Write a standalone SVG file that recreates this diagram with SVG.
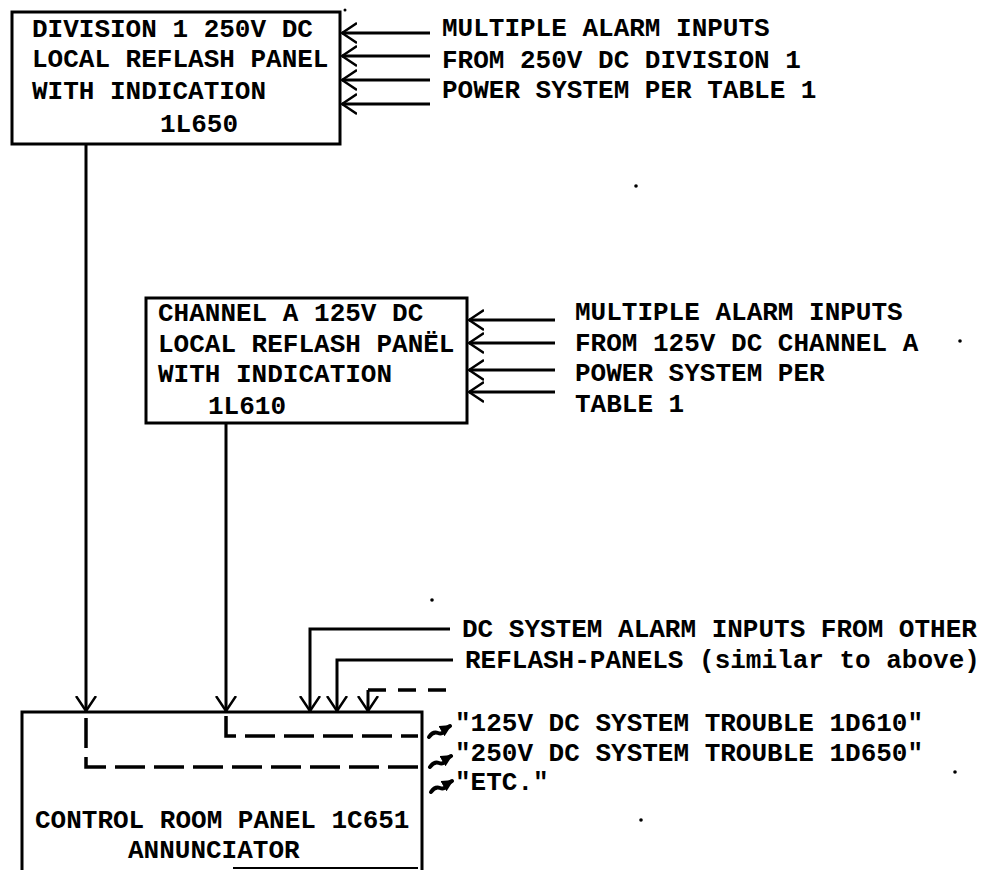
<svg xmlns="http://www.w3.org/2000/svg" width="995" height="870" viewBox="0 0 995 870">
<style>
  .box{fill:none;stroke:#000;stroke-width:3}
  .ln{fill:none;stroke:#000;stroke-width:3}
  .dash{fill:none;stroke:#000;stroke-width:3.5;stroke-dasharray:30 9}
  .dash2{fill:none;stroke:#000;stroke-width:3.5;stroke-dasharray:18 12}
  .sq{fill:none;stroke:#000;stroke-width:4;stroke-linecap:round;stroke-linejoin:round}
  text{font-family:"Liberation Mono","Courier New",monospace;font-size:26px;font-weight:bold;fill:#000}
</style>
<defs>
  <marker id="v" viewBox="0 0 16 22" refX="15" refY="11" markerWidth="16" markerHeight="22" markerUnits="userSpaceOnUse" orient="auto">
    <path d="M0,1 L15,11 L0,21" fill="none" stroke="#000" stroke-width="2.5"/>
  </marker>
  <marker id="bolt" viewBox="0 0 12 12" refX="10" refY="6" markerWidth="12" markerHeight="12" markerUnits="userSpaceOnUse" orient="auto">
    <path d="M0,0 L12,6 L0,12 Z" fill="#000"/>
  </marker>
</defs>
<rect width="995" height="870" fill="#fff"/>

<g id="panel-1L650">
  <rect class="box" x="12" y="12" width="328" height="132"/>
  <text x="32" y="37">DIVISION 1 250V DC</text>
  <text x="32" y="67">LOCAL REFLASH PANEL</text>
  <text x="32" y="99">WITH INDICATION</text>
  <text x="160" y="132">1L650</text>
</g>

<g id="inputs-1L650">
  <text x="442" y="36">MULTIPLE ALARM INPUTS</text>
  <text x="442" y="68">FROM 250V DC DIVISION 1</text>
  <text x="442" y="98">POWER SYSTEM PER TABLE 1</text>
</g>

<g id="panel-1L610">
  <rect class="box" x="146" y="298" width="321" height="125"/>
  <text x="158" y="321">CHANNEL A 125V DC</text>
  <text x="158" y="352">LOCAL REFLASH PANËL</text>
  <text x="158" y="382">WITH INDICATION</text>
  <text x="208" y="414">1L610</text>
</g>

<g id="inputs-1L610">
  <text x="575" y="320">MULTIPLE ALARM INPUTS</text>
  <text x="575" y="351">FROM 125V DC CHANNEL A</text>
  <text x="575" y="381">POWER SYSTEM PER</text>
  <text x="575" y="412">TABLE 1</text>
</g>

<g id="panel-1C651">
  <path class="box" d="M22,870 V712 H422 V870"/>
  <text x="35" y="828">CONTROL ROOM PANEL 1C651</text>
  <text x="128" y="858">ANNUNCIATOR</text>
  <line x1="233" y1="868" x2="418" y2="868" stroke="#000" stroke-width="2"/>
</g>

<g id="other-inputs">
  <text x="462" y="637">DC SYSTEM ALARM INPUTS FROM OTHER</text>
  <text x="465" y="668">REFLASH-PANELS (similar to above)</text>
</g>

<g id="outputs">
  <text x="455" y="731">"125V DC SYSTEM TROUBLE 1D610"</text>
  <text x="455" y="761">"250V DC SYSTEM TROUBLE 1D650"</text>
  <text x="455" y="790">"ETC."</text>
</g>

<g id="connectors">
  <line class="ln" x1="430" y1="33" x2="342" y2="33" marker-end="url(#v)"/>
  <line class="ln" x1="430" y1="56" x2="342" y2="56" marker-end="url(#v)"/>
  <line class="ln" x1="430" y1="80" x2="342" y2="80" marker-end="url(#v)"/>
  <line class="ln" x1="430" y1="104" x2="342" y2="104" marker-end="url(#v)"/>

  <line class="ln" x1="555" y1="320" x2="469" y2="320" marker-end="url(#v)"/>
  <line class="ln" x1="555" y1="343" x2="469" y2="343" marker-end="url(#v)"/>
  <line class="ln" x1="555" y1="370" x2="469" y2="370" marker-end="url(#v)"/>
  <line class="ln" x1="555" y1="392" x2="469" y2="392" marker-end="url(#v)"/>

  <line class="ln" x1="86" y1="144" x2="86" y2="711" marker-end="url(#v)"/>
  <line class="ln" x1="226" y1="423" x2="226" y2="711" marker-end="url(#v)"/>
  <polyline class="ln" points="450,629 310,629 310,711" marker-end="url(#v)"/>
  <polyline class="ln" points="453,660 337,660 337,711" marker-end="url(#v)"/>
  <line class="dash2" x1="368" y1="690" x2="450" y2="690"/>
  <line class="ln" x1="368" y1="690" x2="368" y2="711" marker-end="url(#v)"/>

  <polyline class="dash" points="226,716 226,736 418,736"/>
  <polyline class="dash" points="86,718 86,767 418,767"/>

  <path class="sq" d="M429,737 Q433,731 438,733 Q443,735 445,729 L450,726" marker-end="url(#bolt)"/>
  <path class="sq" d="M430,767 Q434,761 439,763 Q444,765 446,759 L451,756" marker-end="url(#bolt)"/>
  <path class="sq" d="M431,792 Q435,786 440,788 Q445,790 447,784 L452,781" marker-end="url(#bolt)"/>
</g>

<g id="specks" fill="#000">
  <circle cx="345" cy="10" r="1.5"/>
  <circle cx="636" cy="186" r="1.8"/>
  <circle cx="960" cy="341" r="1.8"/>
  <circle cx="432" cy="600" r="1.8"/>
  <circle cx="955" cy="772" r="1.8"/>
  <circle cx="641" cy="820" r="1.8"/>
</g>
</svg>
